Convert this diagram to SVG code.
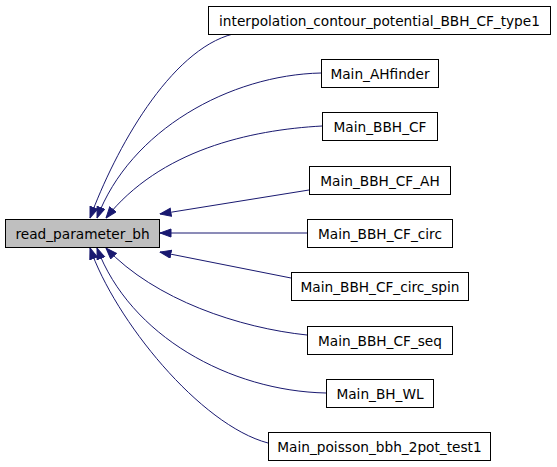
<svg xmlns="http://www.w3.org/2000/svg" width="557" height="467" viewBox="0 0 557 467">
<style>
.n rect{fill:#fff;stroke:#000;stroke-width:1}
.n text{font-family:"DejaVu Sans",sans-serif;font-size:13.7px;text-anchor:middle;fill:#000}
#main rect{fill:#bfbfbf}
.e{fill:none;stroke:#191970;stroke-width:1}
</style>
<defs>
<marker id="ah" markerUnits="userSpaceOnUse" markerWidth="12" markerHeight="10" refX="11.5" refY="4.5" orient="auto">
<path d="M0.5,0.5 L11.5,4.5 L0.5,8.5 z" fill="#191970" stroke="#191970" stroke-width="1"/>
</marker>
</defs>
<rect width="557" height="467" fill="#fff"/>
<g id="edges">
<path class="e" marker-end="url(#ah)" d="M233,34 C170,50 115,150 90,218"/>
<path class="e" marker-end="url(#ah)" d="M321,73 C230,75 130,130 97,218"/>
<path class="e" marker-end="url(#ah)" d="M322,126 C250,130 160,150 106,218"/>
<path class="e" marker-end="url(#ah)" d="M309,190 L160,214"/>
<path class="e" marker-end="url(#ah)" d="M307,233 L160,233"/>
<path class="e" marker-end="url(#ah)" d="M291,278 L160,252"/>
<path class="e" marker-end="url(#ah)" d="M307,335 C240,328 155,300 106,248"/>
<path class="e" marker-end="url(#ah)" d="M326,393 C230,391 130,336 97,248"/>
<path class="e" marker-end="url(#ah)" d="M268,443 C200,425 115,320 90,248"/>
</g>
<g id="main" class="n"><rect x="5.5" y="219.5" width="154" height="28"/><text x="82.5" y="238.5">read_parameter_bh</text></g>
<g id="n1" class="n"><rect x="208.5" y="6.5" width="342" height="28"/><text x="379.5" y="25.5">interpolation_contour_potential_BBH_CF_type1</text></g>
<g id="n2" class="n"><rect x="321.5" y="59.5" width="117" height="28"/><text x="380" y="78.5">Main_AHfinder</text></g>
<g id="n3" class="n"><rect x="322.5" y="112.5" width="115" height="28"/><text x="380" y="131.5">Main_BBH_CF</text></g>
<g id="n4" class="n"><rect x="309.5" y="166.5" width="141" height="28"/><text x="380" y="185.5">Main_BBH_CF_AH</text></g>
<g id="n5" class="n"><rect x="307.5" y="219.5" width="145" height="28"/><text x="380" y="238.5">Main_BBH_CF_circ</text></g>
<g id="n6" class="n"><rect x="291.5" y="272.5" width="177" height="28"/><text x="380" y="291.5">Main_BBH_CF_circ_spin</text></g>
<g id="n7" class="n"><rect x="307.5" y="326.5" width="145" height="28"/><text x="380" y="345.5">Main_BBH_CF_seq</text></g>
<g id="n8" class="n"><rect x="326.5" y="379.5" width="107" height="28"/><text x="380" y="398.5">Main_BH_WL</text></g>
<g id="n9" class="n"><rect x="268.5" y="432.5" width="222" height="28"/><text x="379.5" y="451.5">Main_poisson_bbh_2pot_test1</text></g>
</svg>
